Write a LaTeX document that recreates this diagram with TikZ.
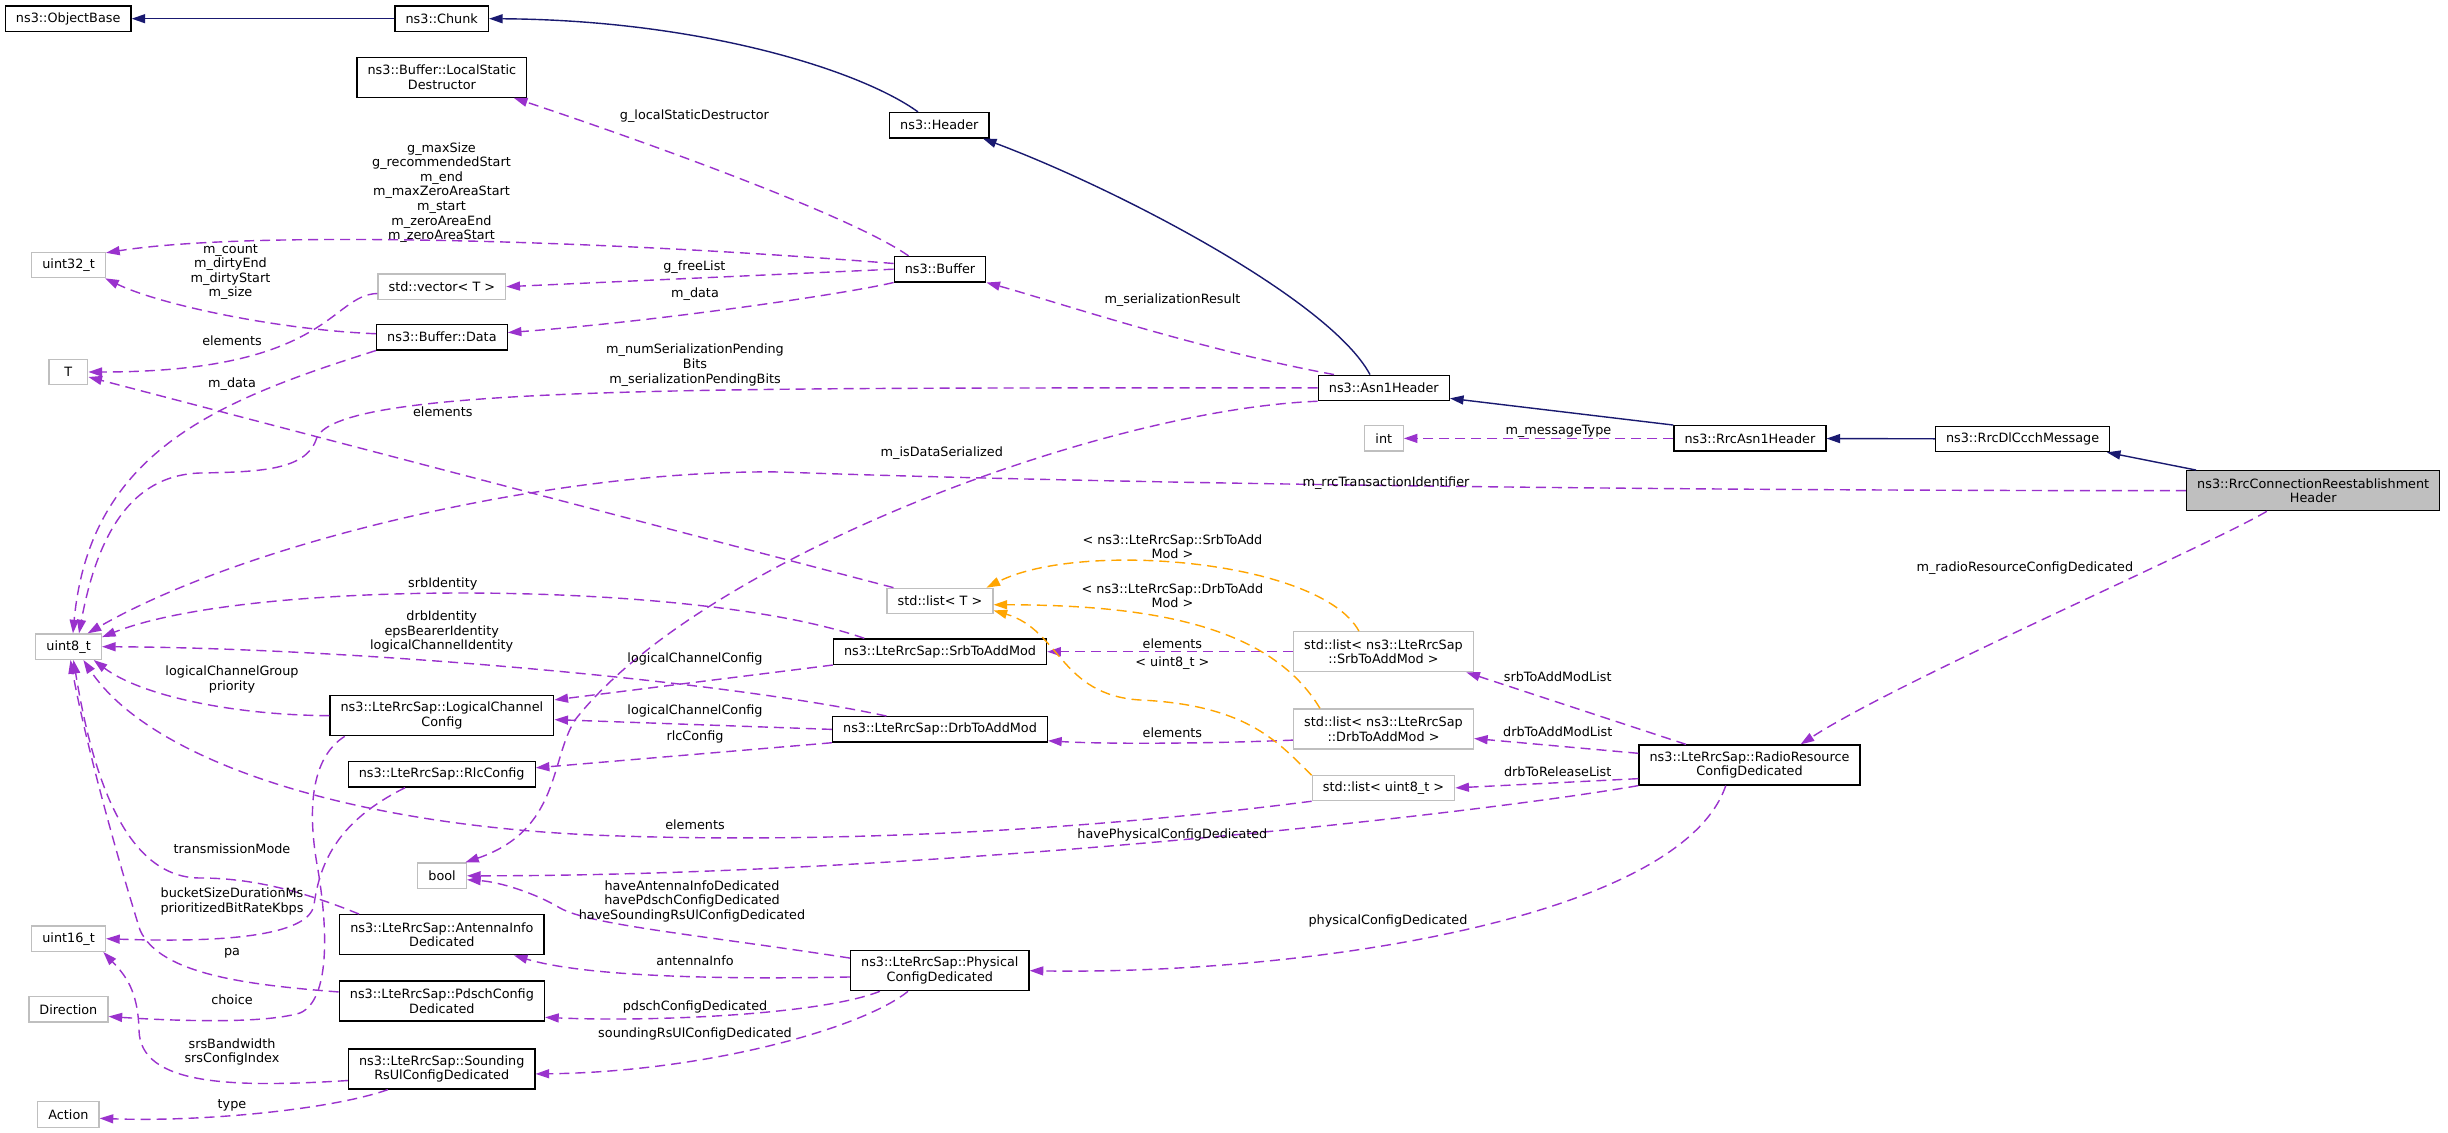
\documentclass[tikz,border=0pt]{standalone}
\usepackage{fontspec}
\setmainfont{DejaVu Sans}
\usetikzlibrary{arrows.meta}

\definecolor{inhblue}{HTML}{191970}
\definecolor{usepurple}{HTML}{9A32CD}
\definecolor{tplorange}{HTML}{FFA500}
\definecolor{extgray}{HTML}{BFBFBF}

\begin{document}
\begin{tikzpicture}[
        x=0.5pt, y=-0.5pt,
        font=\fontsize{6.4}{7.3}\selectfont,
        cls/.style={rectangle, draw=black, line width=0.64pt, inner xsep=5.3pt, inner ysep=2pt, minimum height=12.7pt, minimum width=19.4pt, align=center},
        ext/.style={cls, draw=extgray},
        two/.style={minimum height=20pt},
        lbl/.style={inner sep=0pt, align=center},
        inh/.style={draw=inhblue, line width=0.7pt, -{Triangle[length=6.8pt, width=4.5pt]}},
        coll/.style={draw=usepurple, line width=0.7pt, dash pattern=on 5pt off 3pt, -{Triangle[length=6.8pt, width=4.5pt]}},
        tmpl/.style={coll, draw=tplorange}
    ]
    \useasboundingbox (0,0) rectangle (2448,1133);
    \fill[white] (0,0) rectangle (2448,1133);

    \node[cls] (obase) at (68.2,18.7) {ns3::ObjectBase};
    \node[cls] (chunk) at (441.7,18.7) {ns3::Chunk};
    \node[cls, two] (lsd) at (441.9,77.3) {ns3::Buffer::LocalStatic\\Destructor};
    \node[cls] (header) at (939.3,125.2) {ns3::Header};
    \node[ext] (u32) at (68.6,265) {uint32\_t};
    \node[ext] (vec) at (441.9,286.7) {std::vector< T >};
    \node[cls] (buffer) at (940,269.2) {ns3::Buffer};
    \node[cls] (bdata) at (441.9,337.2) {ns3::Buffer::Data};
    \node[ext] (tT) at (68.4,372) {T};
    \node[cls] (asn) at (1383.8,387.9) {ns3::Asn1Header};
    \node[ext] (int) at (1383.8,438.4) {int};
    \node[cls] (rasn) at (1749.9,438.4) {ns3::RrcAsn1Header};
    \node[cls] (dlccch) at (2022.6,439) {ns3::RrcDlCcchMessage};
    \node[cls, two, fill=extgray] (reest) at (2313.2,490.7) {ns3::RrcConnectionReestablishment\\Header};
    \node[ext] (listT) at (940,601) {std::list< T >};
    \node[ext] (u8) at (68.6,646.7) {uint8\_t};
    \node[cls] (srb) at (940,651.7) {ns3::LteRrcSap::SrbToAddMod};
    \node[ext, two] (lsrb) at (1383.5,651.7) {std::list< ns3::LteRrcSap\\::SrbToAddMod >};
    \node[cls, two] (lcc) at (441.9,715.7) {ns3::LteRrcSap::LogicalChannel\\Config};
    \node[cls] (drb) at (940,729.4) {ns3::LteRrcSap::DrbToAddMod};
    \node[ext, two] (ldrb) at (1383.5,729) {std::list< ns3::LteRrcSap\\::DrbToAddMod >};
    \node[cls] (rlc) at (441.7,774.4) {ns3::LteRrcSap::RlcConfig};
    \node[ext] (lu8) at (1383.5,787.9) {std::list< uint8\_t >};
    \node[cls, two] (rrcd) at (1749.5,765) {ns3::LteRrcSap::RadioResource\\ConfigDedicated};
    \node[ext] (bool) at (442.1,875.8) {bool};
    \node[ext] (u16) at (68.6,938.7) {uint16\_t};
    \node[cls, two] (ant) at (441.9,934.7) {ns3::LteRrcSap::AntennaInfo\\Dedicated};
    \node[cls, two] (pcd) at (939.8,970.7) {ns3::LteRrcSap::Physical\\ConfigDedicated};
    \node[ext] (dir) at (68.4,1009.4) {Direction};
    \node[cls, two] (pdsch) at (441.9,1001) {ns3::LteRrcSap::PdschConfig\\Dedicated};
    \node[cls, two] (srs) at (441.7,1069) {ns3::LteRrcSap::Sounding\\RsUlConfigDedicated};
    \node[ext] (action) at (68.4,1114.5) {Action};

    % inheritance
    \draw[inh] (chunk) -- (obase);
    \draw[inh] (header.148) .. controls (860,70) and (700,20) .. (chunk.east);
    \draw[inh] (asn.136) .. controls (1330,300) and (1120,190) .. (header.-17);
    \draw[inh] (rasn.north west) -- (asn.-9);
    \draw[inh] (dlccch) -- (rasn);
    \draw[inh] (reest.170) -- (dlccch.-9);

    % members
    \draw[coll] (buffer.157) .. controls (850,215) and (640,140) .. (lsd.-16);
    \draw[coll] (buffer.173) .. controls (600,240) and (250,230) .. (u32.18);
    \draw[coll] (buffer.west) -- (vec.east);
    \draw[coll] (buffer.south west) .. controls (840,295) and (650,322) .. (bdata.4);
    \draw[coll] (bdata.177) .. controls (280,330) and (160,305) .. (u32.-20);
    \draw[coll] (vec.186) .. controls (330,295) and (330,372) .. (tT.east);
    \draw[coll] (bdata.south west) .. controls (220,400) and (90,450) .. (u8.72);
    \draw[coll] (asn.west) .. controls (700,388) and (330,385) .. (316,440) .. controls (305,470) and (260,472) .. (200,473) .. controls (140,475) and (100,520) .. (u8.52);
    \draw[coll] (asn.165) .. controls (1200,350) and (1050,300) .. (buffer.south east);
    \draw[coll] (asn.south west) .. controls (1100,410) and (700,560) .. (575,720) .. controls (550,760) and (560,830) .. (bool.30);
    \draw[coll] (reest.west) .. controls (1500,490.7) and (1000,480) .. (780,472) .. controls (560,469) and (250,540) .. (u8.35);
    \draw[coll] (reest.204) .. controls (2200,550) and (1900,680) .. (rrcd.22);
    \draw[coll] (rasn.west) -- (int.east);
    \draw[coll] (rrcd.162) -- (lsrb.-14);
    \draw[coll] (rrcd.174) -- (ldrb.-6);
    \draw[coll] (rrcd.187) -- (lu8.east);
    \draw[coll] (rrcd.south west) .. controls (1450,818) and (900,876) .. (bool.east);
    \draw[coll] (rrcd.221) .. controls (1680,920) and (1300,975) .. (pcd.east);
    \draw[coll] (lsrb.west) -- (srb.east);
    \draw[coll] (ldrb.187) .. controls (1200,744) and (1100,744) .. (drb.-6);
    \draw[tmpl] (lsrb.140) .. controls (1320,560) and (1080,540) .. (listT.16);
    \draw[tmpl] (ldrb.162) .. controls (1270,625) and (1150,605) .. (listT.-4);
    \draw[tmpl] (lu8.170) .. controls (1280,745) and (1250,705) .. (1140,700) .. controls (1060,695) and (1060,630) .. (listT.-10);
    \draw[coll] (listT.164) -- (tT.-14);
    \draw[coll] (lu8.south west) .. controls (1050,835) and (800,842) .. (620,836) .. controls (350,828) and (150,760) .. (u8.-42);
    \draw[coll] (srb.170) .. controls (700,580) and (250,578) .. (u8.16);
    \draw[coll] (drb.166) .. controls (720,680) and (350,648) .. (u8.east);
    \draw[coll] (srb.south west) -- (lcc.8);
    \draw[coll] (drb.west) -- (lcc.-2);
    \draw[coll] (drb.south west) -- (rlc.4);
    \draw[coll] (lcc.west) .. controls (230,715) and (140,695) .. (u8.-28);
    \draw[coll] (lcc.192) .. controls (315,755) and (305,800) .. (318,870) .. controls (328,930) and (330,1000) .. (300,1013) .. controls (260,1025) and (160,1020) .. (dir.-10);
    \draw[coll] (rlc.200) .. controls (340,820) and (320,860) .. (314,905) .. controls (308,940) and (200,942) .. (u16.east);
    \draw[coll] (ant.166) .. controls (300,890) and (250,878) .. (200,878) .. controls (120,878) and (90,760) .. (u8.-70);
    \draw[coll] (pdsch.175) .. controls (250,985) and (160,975) .. (140,930) .. controls (115,850) and (85,740) .. (u8.-82);
    \draw[coll] (srs.187) .. controls (230,1088) and (140,1085) .. (139,1030) .. controls (138,990) and (125,975) .. (u16.-21);
    \draw[coll] (srs.201) .. controls (330,1110) and (200,1122) .. (action.-7);
    \draw[coll] (pcd.172) .. controls (700,935) and (590,925) .. (560,908) .. controls (535,893) and (500,882) .. (bool.-9);
    \draw[coll] (pcd.184) .. controls (700,980) and (580,975) .. (ant.-16);
    \draw[coll] (pcd.199) .. controls (820,1015) and (650,1022) .. (pdsch.-9);
    \draw[coll] (pcd.213) .. controls (860,1030) and (700,1072) .. (srs.-3);

    % edge labels
    \node[lbl] (l-lsd) at (694.4,115.7) {g\_localStaticDestructor};
    \node[lbl] (l-u32) at (441.5,192.5) {g\_maxSize\\g\_recommendedStart\\m\_end\\m\_maxZeroAreaStart\\m\_start\\m\_zeroAreaEnd\\m\_zeroAreaStart};
    \node[lbl] (l-vec) at (694.4,266.7) {g\_freeList};
    \node[lbl] (l-bdata) at (695,294.5) {m\_data};
    \node[lbl] (l-cnt) at (230.5,272) {m\_count\\m\_dirtyEnd\\m\_dirtyStart\\m\_size};
    \node[lbl] (l-velem) at (232,340.7) {elements};
    \node[lbl] (l-dat) at (232,383.7) {m\_data};
    \node[lbl] (l-res) at (1172.4,300) {m\_serializationResult};
    \node[lbl] (l-pend) at (695,365.2) {m\_numSerializationPending\\Bits\\m\_serializationPendingBits};
    \node[lbl] (l-ser) at (941.8,452.7) {m\_isDataSerialized};
    \node[lbl] (l-lelem) at (442.8,411.7) {elements};
    \node[lbl] (l-msg) at (1558.4,431) {m\_messageType};
    \node[lbl] (l-rrc) at (1386,482.7) {m\_rrcTransactionIdentifier};
    \node[lbl] (l-rrcd) at (2024.8,568.3) {m\_radioResourceConfigDedicated};
    \node[lbl] (l-tsrb) at (1172.4,546.8) {< ns3::LteRrcSap::SrbToAdd\\Mod >};
    \node[lbl] (l-tdrb) at (1172.4,595.8) {< ns3::LteRrcSap::DrbToAdd\\Mod >};
    \node[lbl] (l-srbid) at (442.8,583.7) {srbIdentity};
    \node[lbl] (l-drbid) at (441.7,631.7) {drbIdentity\\epsBearerIdentity\\logicalChannelIdentity};
    \node[lbl] (l-selem) at (1172.4,643.3) {elements};
    \node[lbl] (l-tu8) at (1172.4,663.3) {< uint8\_t >};
    \node[lbl] (l-slcc) at (695,659.3) {logicalChannelConfig};
    \node[lbl] (l-grp) at (232,679.2) {logicalChannelGroup\\priority};
    \node[lbl] (l-srbl) at (1557.7,676.7) {srbToAddModList};
    \node[lbl] (l-drbl) at (1557.7,731.7) {drbToAddModList};
    \node[lbl] (l-rell) at (1557.7,771.7) {drbToReleaseList};
    \node[lbl] (l-dlcc) at (695,710.7) {logicalChannelConfig};
    \node[lbl] (l-delem) at (1172.4,732.3) {elements};
    \node[lbl] (l-rlc) at (695,736.7) {rlcConfig};
    \node[lbl] (l-uelem) at (695,824.3) {elements};
    \node[lbl] (l-hpcd) at (1172.4,835) {havePhysicalConfigDedicated};
    \node[lbl] (l-tm) at (232,848.7) {transmissionMode};
    \node[lbl] (l-have) at (692,901.2) {haveAntennaInfoDedicated\\havePdschConfigDedicated\\haveSoundingRsUlConfigDedicated};
    \node[lbl] (l-bkt) at (232,901.7) {bucketSizeDurationMs\\prioritizedBitRateKbps};
    \node[lbl] (l-pcd) at (1388,920.7) {physicalConfigDedicated};
    \node[lbl] (l-pa) at (232,953.3) {pa};
    \node[lbl] (l-ant) at (695,960.7) {antennaInfo};
    \node[lbl] (l-ch) at (232,999.3) {choice};
    \node[lbl] (l-pdsch) at (695,1006.7) {pdschConfigDedicated};
    \node[lbl] (l-srs) at (695,1034.3) {soundingRsUlConfigDedicated};
    \node[lbl] (l-srsb) at (232,1052) {srsBandwidth\\srsConfigIndex};
    \node[lbl] (l-type) at (232,1105) {type};
\end{tikzpicture}
\end{document}
